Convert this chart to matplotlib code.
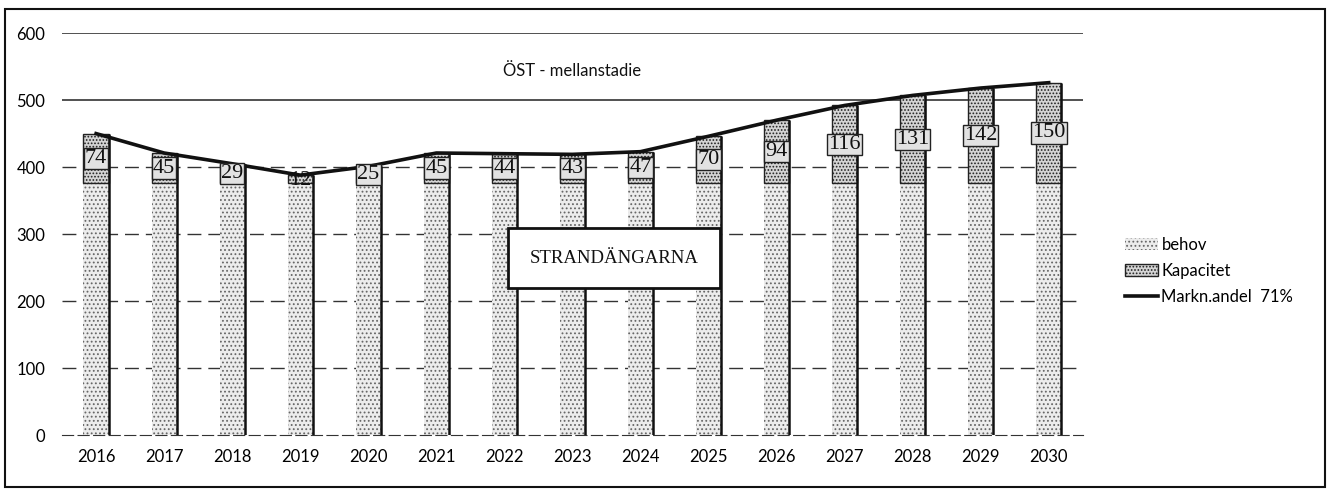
import matplotlib
matplotlib.use("Agg")
import matplotlib.pyplot as plt
from matplotlib.patches import Rectangle
import numpy as np

years = ["2016", "2017", "2018", "2019", "2020", "2021", "2022", "2023",
         "2024", "2025", "2026", "2027", "2028", "2029", "2030"]
behov = [376] * 15
kapacitet = [74, 45, 29, 12, 25, 45, 44, 43, 47, 70, 94, 116, 131, 142, 150]
markn_andel = [450, 421, 405, 388, 401, 421, 420, 419, 423, 446, 470, 492, 507, 518, 526]
yticks = [0, 100, 200, 300, 400, 500, 600]

plt.rcParams['font.family'] = ['Lato', 'DejaVu Sans']
plt.rcParams['hatch.linewidth'] = 0.8
plt.rcParams['hatch.color'] = '#555555'

fig = plt.figure(figsize=(13.29, 4.98), dpi=100)
ax = fig.add_axes([0.0467, 0.1265, 0.768, 0.807])

x = np.arange(len(years))
w = 0.37

h1 = ax.bar(x, behov, width=w, color='#ececec', hatch='....', edgecolor='#666666',
            linewidth=0.0, label='behov', zorder=2)
h2 = ax.bar(x, kapacitet, bottom=behov, width=w, color='#d4d4d4', hatch='.....',
            edgecolor='#222222', linewidth=1.0, label='Kapacitet', zorder=2)
tops = [b + k for b, k in zip(behov, kapacitet)]
ax.vlines(x + w / 2, 0, tops, color='#111111', lw=1.8, zorder=3)
h3, = ax.plot(x, markn_andel, color='#111111', lw=2.6, label='Markn.andel  71%', zorder=4)

for xi, b, k in zip(x, behov, kapacitet):
    ax.text(xi, b + k / 2 if k > 20 else b + 4, str(k), ha='center', va='center',
            family=['Liberation Serif'], fontsize=16, color='#111111', zorder=5,
            bbox=dict(boxstyle='square,pad=0.05', fc='#e2e2e2' if k > 20 else 'none',
                      ec='#222222' if k > 20 else 'none', lw=1.0))

# gridlines
for v in yticks[1:]:
    if v >= 500:
        ax.axhline(v, color='#222222', lw=1.1, zorder=1)
    else:
        ax.axhline(v, color='#333333', lw=1.0, ls=(0, (10, 5)), zorder=1)

ax.set_xlim(-0.5, len(years) - 0.5)
ax.set_ylim(0, 600)
ax.set_yticks(yticks)
ax.set_yticklabels([str(v) for v in yticks], fontsize=12)
ax.set_xticks(x)
ax.set_xticklabels(years, fontsize=12)
ax.tick_params(axis='y', length=0, pad=12)
ax.tick_params(axis='x', length=0, pad=10)
for s in ['top', 'right', 'left']:
    ax.spines[s].set_visible(False)
ax.spines['bottom'].set_color('#333333')
ax.spines['bottom'].set_linestyle((0, (10, 4)))

ax.text(0.5, 0.905, "ÖST - mellanstadie", transform=ax.transAxes, ha='center',
        va='center', fontsize=12, color='#111111')

ax.text(0.541, 0.44, "STRANDÄNGARNA", transform=ax.transAxes, ha='center', va='center',
        family=['Liberation Serif'], fontsize=13.5, color='#111111', zorder=6,
        bbox=dict(boxstyle='square,pad=1.15', fc='white', ec='#111111', lw=2))

fig.legend(handles=[h1, h2, h3], loc='upper left', bbox_to_anchor=(0.835, 0.555),
           frameon=False, fontsize=12, handlelength=2.0, handletextpad=0.2,
           labelspacing=0.6)

# outer frame
fig.patches.append(Rectangle((0.004, 0.022), 0.993, 0.96, transform=fig.transFigure,
                             fill=False, ec='#111111', lw=1.5))

fig.savefig("out.png", dpi=100)
